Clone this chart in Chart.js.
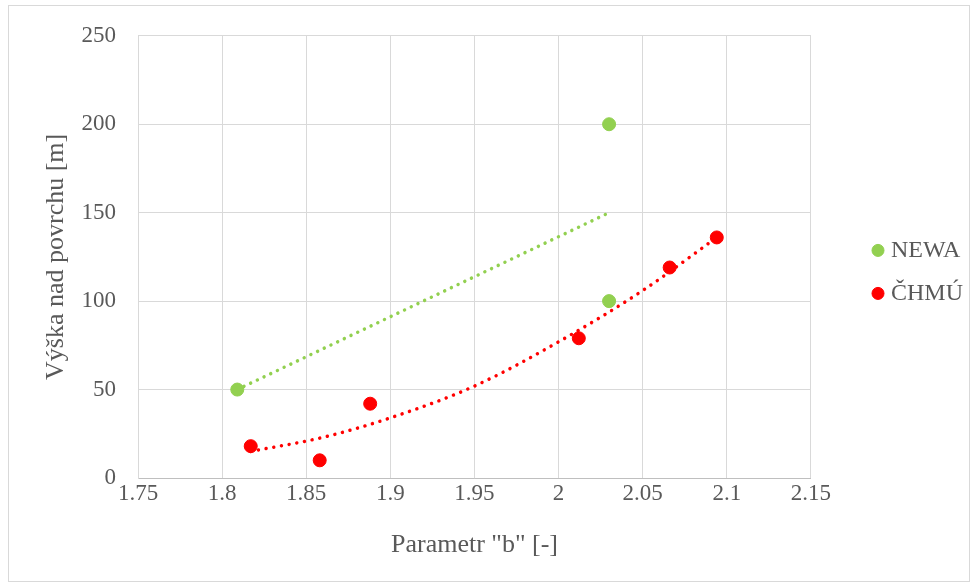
<!DOCTYPE html>
<html>
<head>
<meta charset="utf-8">
<script src="https://cdn.jsdelivr.net/npm/chart.js@4"></script>
<style>
  body { margin: 0; background: #fff; }
  #wrap { width: 978px; height: 587px; }
</style>
</head>
<body>
<div id="wrap"><canvas id="chart" width="978" height="587"></canvas></div>
<script>
// measured data
const newaX = [1.809, 2.03, 2.03];
const newaY = [50, 100, 200];
const chmuX = [1.817, 1.858, 1.888, 2.012, 2.066, 2.094];
const chmuY = [18, 10, 42, 79, 119, 136];

// trend lines
const newaTrendX = [1.809, 2.03];
const newaTrendY = [50, 150];
const chmuTrendX = [1.817, 1.86, 1.90, 1.95, 2.0, 2.05, 2.094];
const chmuTrendY = [15, 23, 34, 52, 77, 106, 136];

const xTicks = [1.75, 1.8, 1.85, 1.9, 1.95, 2, 2.05, 2.1, 2.15];
const yTicks = [0, 50, 100, 150, 200, 250];

const toPoints = (xs, ys) => xs.map((x, i) => ({ x: x, y: ys[i] }));

const green = '#92d050';
const red = '#ff0000';
const textColor = '#595959';
const gridColor = '#d9d9d9';
const family = "'Liberation Serif', 'Times New Roman', serif";
const tickFont = { family: family, size: 23 };
const titleFont = { family: family, size: 26 };
const legendFont = { family: family, size: 24 };

// outer frame like the Excel chart area
const framePlugin = {
    id: 'frame',
    beforeDraw(chart) {
        const ctx = chart.ctx;
        ctx.save();
        ctx.fillStyle = '#fff';
        ctx.fillRect(0, 0, chart.width, chart.height);
        ctx.strokeStyle = '#d9d9d9';
        ctx.lineWidth = 1;
        ctx.strokeRect(8.5, 5.5, 961, 576);
        ctx.restore();
    }
};

// put the legend where Excel has it (right, slightly below middle)
const legendPlace = {
    id: 'legendPlace',
    afterLayout(chart) {
        const lg = chart.legend;
        const w = lg.width;
        lg.left = 858;
        lg.right = lg.left + w;
        lg.top = chart.chartArea.top + 15;
        lg.bottom = chart.chartArea.bottom + 15;
    }
};

const ctx = document.getElementById('chart').getContext('2d');
new Chart(ctx, {
    type: 'scatter',
    data: {
        datasets: [{
            label: 'NEWA',
            data: toPoints(newaX, newaY),
            backgroundColor: green,
            borderColor: green,
            pointRadius: 6.5,
            pointHoverRadius: 6.5,
            order: 1
        }, {
            label: 'ČHMÚ',
            data: toPoints(chmuX, chmuY),
            backgroundColor: red,
            borderColor: red,
            pointRadius: 6.5,
            pointHoverRadius: 6.5,
            order: 1
        }, {
            label: 'trend NEWA',
            data: toPoints(newaTrendX, newaTrendY),
            showLine: true,
            borderColor: green,
            borderWidth: 3.5,
            borderDash: [0.01, 7.4],
            borderCapStyle: 'round',
            pointRadius: 0,
            order: 2
        }, {
            label: 'trend ČHMÚ',
            data: toPoints(chmuTrendX, chmuTrendY),
            showLine: true,
            borderColor: red,
            borderWidth: 3.5,
            borderDash: [0.01, 7.8],
            borderCapStyle: 'round',
            cubicInterpolationMode: 'monotone',
            pointRadius: 0,
            order: 2
        }]
    },
    options: {
        responsive: false,
        animation: false,
        layout: {
            padding: { left: 36, top: 34, right: 52, bottom: 18 }
        },
        plugins: {
            tooltip: { enabled: false },
            legend: {
                position: 'right',
                labels: {
                    filter: item => item.text === 'NEWA' || item.text === 'ČHMÚ',
                    usePointStyle: true,
                    pointStyle: 'circle',
                    boxHeight: 8.5,
                    boxWidth: 2,
                    padding: 19,
                    color: textColor,
                    font: legendFont
                }
            }
        },
        scales: {
            x: {
                type: 'linear',
                min: 1.75,
                max: 2.15,
                afterBuildTicks: axis => { axis.ticks = xTicks.map(v => ({ value: v })); },
                afterFit: axis => { axis.height = 587 - 478 - 18; },
                ticks: {
                    color: textColor,
                    font: tickFont,
                    padding: 2,
                    callback: v => String(parseFloat(v.toFixed(2)))
                },
                grid: { color: gridColor, drawTicks: false },
                border: { color: '#bfbfbf' },
                title: {
                    display: true,
                    text: 'Parametr "b" [-]',
                    color: textColor,
                    font: titleFont,
                    padding: { bottom: 8 }
                }
            },
            y: {
                min: 0,
                max: 250,
                afterBuildTicks: axis => { axis.ticks = yTicks.map(v => ({ value: v })); },
                afterFit: axis => { axis.width = 138 - 36; },
                ticks: {
                    color: textColor,
                    font: tickFont,
                    padding: 22
                },
                grid: { color: gridColor, drawTicks: false },
                border: { color: gridColor },
                title: {
                    display: true,
                    text: 'Výška nad povrchu [m]',
                    color: textColor,
                    font: titleFont,
                    padding: { top: 5 }
                }
            }
        }
    },
    plugins: [framePlugin, legendPlace]
});
</script>
</body>
</html>
